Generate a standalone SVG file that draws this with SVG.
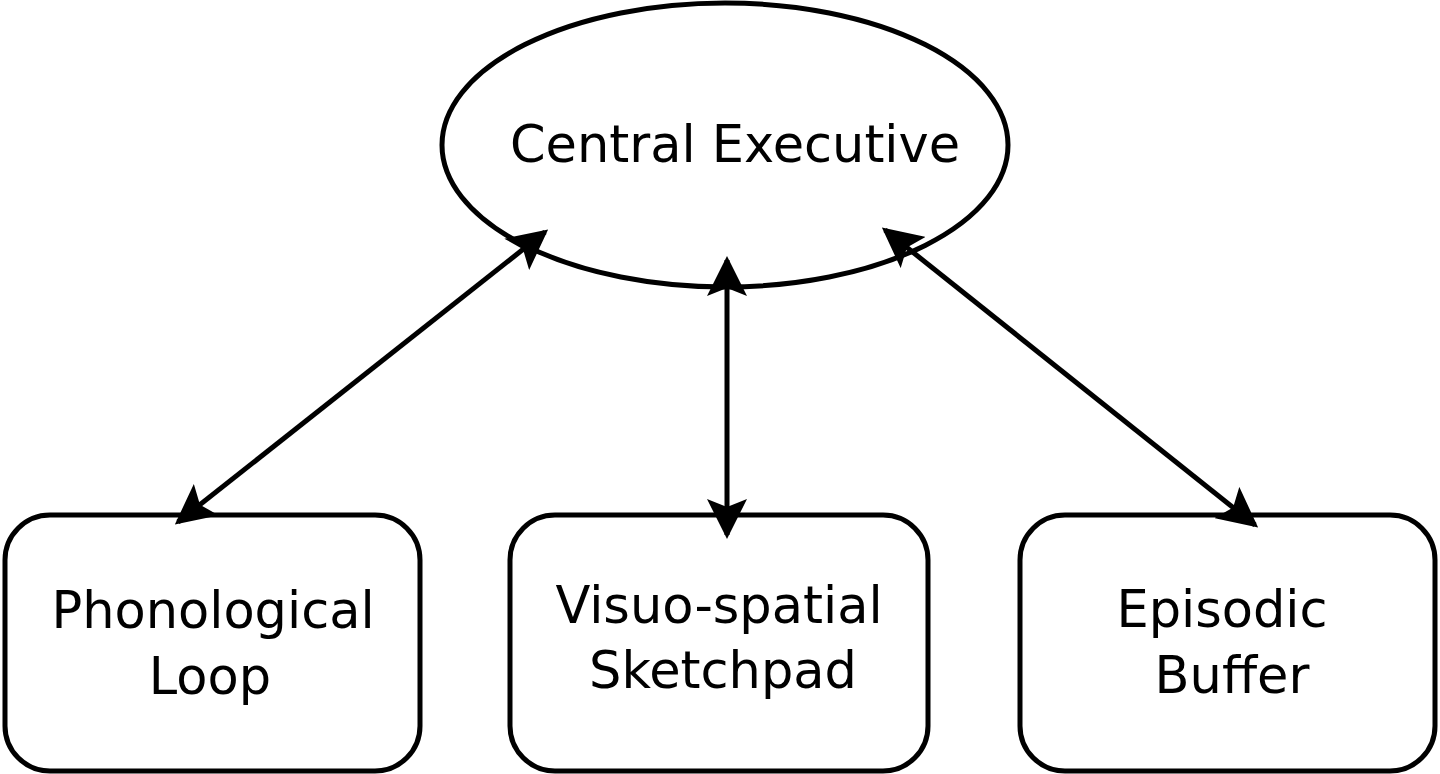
<svg xmlns="http://www.w3.org/2000/svg" width="1440" height="774" viewBox="0 0 1440 774">
<style>
.n{fill:#fff;stroke:#000;stroke-width:5}
.t{font-family:"DejaVu Sans",sans-serif;font-size:51px;fill:#000;text-anchor:middle}
.c{stroke:#000;stroke-width:5;fill:none;marker-start:url(#a);marker-end:url(#a)}
</style>
<defs>
<marker id="a" viewBox="0 0 10 10" refX="9" refY="5" markerWidth="8" markerHeight="8" orient="auto-start-reverse" markerUnits="strokeWidth">
<path d="M0,0 L10,5 L0,10 L2,5 z" fill="#000"/>
</marker>
</defs>
<rect width="1440" height="774" fill="#fff"/>
<g id="central"><ellipse class="n" cx="725" cy="145" rx="283" ry="142"/><text class="t" x="735" y="162">Central Executive</text></g>
<g id="phono"><rect class="n" x="5" y="515" width="415" height="256" rx="45"/><text class="t" x="213" y="628">Phonological</text><text class="t" x="210" y="694">Loop</text></g>
<g id="visuo"><rect class="n" x="510" y="515" width="418" height="256" rx="45"/><text class="t" x="719" y="623">Visuo-spatial</text><text class="t" x="723" y="688">Sketchpad</text></g>
<g id="episodic"><rect class="n" x="1020" y="515" width="415" height="256" rx="45"/><text class="t" x="1222" y="627">Episodic</text><text class="t" x="1232" y="693">Buffer</text></g>
<g id="connectors">
<line class="c" x1="545" y1="232" x2="178" y2="522"/>
<line class="c" x1="727" y1="260" x2="727" y2="535"/>
<line class="c" x1="885" y1="230" x2="1255" y2="525"/>
</g>
</svg>
